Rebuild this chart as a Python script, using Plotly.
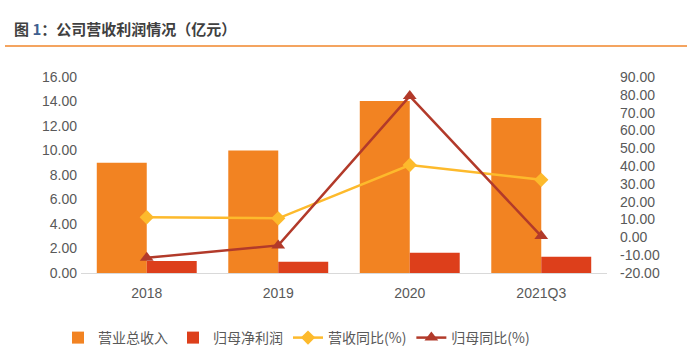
import plotly.graph_objects as go

categories = ["2018", "2019", "2020", "2021Q3"]
revenue = [9.0, 10.0, 14.05, 12.65]
net_profit = [0.98, 0.92, 1.65, 1.32]
revenue_yoy = [11.3, 10.7, 40.6, 32.3]
profit_yoy = [-11.5, -4.5, 79.3, 0.7]

left_ticks = [0, 2, 4, 6, 8, 10, 12, 14, 16]
right_ticks = [-20, -10, 0, 10, 20, 30, 40, 50, 60, 70, 80, 90]

NUM_FONT = "Liberation Sans, Arial, sans-serif"
CJK_FONT = "Noto Sans CJK SC, sans-serif"

fig = go.Figure()
fig.add_trace(go.Bar(x=categories, y=revenue, name="营业总收入",
                     marker=dict(color="#F28322", line=dict(width=0))))
fig.add_trace(go.Bar(x=categories, y=net_profit, name="归母净利润",
                     marker=dict(color="#DD3F1B", line=dict(width=0))))
fig.add_trace(go.Scatter(x=categories, y=revenue_yoy, name="营收同比(%)", yaxis="y2",
                         mode="lines+markers",
                         line=dict(color="#FDBA2C", width=2.5),
                         marker=dict(symbol="diamond", size=11, color="#FDBA2C")))
fig.add_trace(go.Scatter(x=categories, y=profit_yoy, name="归母同比(%)", yaxis="y2",
                         mode="lines+markers",
                         line=dict(color="#B23A2A", width=2.5),
                         marker=dict(symbol="triangle-up", size=12, color="#B23A2A")))

W, H = 687, 348
L, R, T, B = 81, 80, 77, 75
pw = W - L - R
ph = H - T - B

def px_x(x):
    return (x - L) / pw

def px_y(y):
    return (H - B - y) / ph

fig.update_layout(
    width=W, height=H,
    margin=dict(l=L, r=R, t=T, b=B, pad=0, autoexpand=False),
    paper_bgcolor="white", plot_bgcolor="white",
    barmode="group", bargap=0.24, bargroupgap=0,
    font=dict(family=NUM_FONT, size=14, color="#595959"),
    xaxis=dict(type="category", showgrid=False, showline=True, linecolor="#D9D9D9",
               linewidth=1, ticks="", tickfont=dict(size=14, color="#595959", family=NUM_FONT),
               zeroline=False, automargin=False, ticklabelstandoff=7),
    yaxis=dict(range=[0, 16], tickvals=left_ticks,
               ticktext=[f"{v:.2f}" for v in left_ticks],
               showgrid=False, zeroline=False, showline=False, ticks="", automargin=False,
               ticklabelstandoff=3,
               tickfont=dict(size=14, color="#595959", family=NUM_FONT)),
    yaxis2=dict(range=[-20, 90], tickvals=right_ticks,
                ticktext=[f"{v:.2f}" for v in right_ticks],
                overlaying="y", side="right", showgrid=False, zeroline=False,
                showline=False, ticks="", automargin=False, ticklabelstandoff=12,
                tickfont=dict(size=14, color="#595959", family=NUM_FONT)),
    showlegend=True,
    legend=dict(orientation="h", x=px_x(58), y=px_y(338), xanchor="left", yanchor="middle",
                font=dict(family=CJK_FONT, size=14, color="#595959"),
                itemwidth=30, tracegroupgap=0, bgcolor="rgba(0,0,0,0)"),
    shapes=[dict(type="line", xref="paper", yref="paper",
                 x0=px_x(5), x1=px_x(687), y0=px_y(46), y1=px_y(46),
                 line=dict(color="#F4A460", width=2))],
    annotations=[dict(xref="paper", yref="paper", x=px_x(12), y=px_y(29),
                      xanchor="left", yanchor="middle", showarrow=False,
                      text="<b>图 <span style='color:#3F5F8F'>1</span>：公司营收利润情况（亿元）</b>",
                      font=dict(family=CJK_FONT, size=15, color="#404040"))],
)

fig.write_html("out.html")
